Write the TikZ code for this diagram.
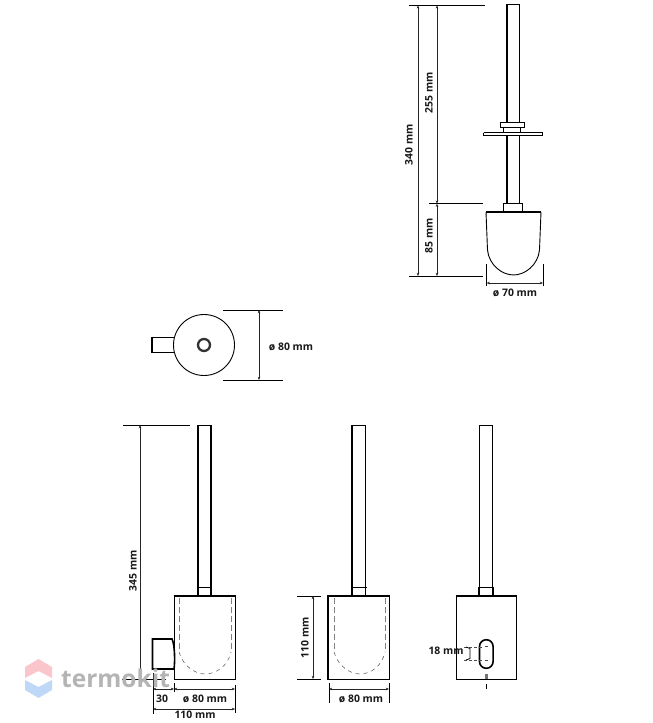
\documentclass[tikz,border=0pt]{standalone}
\usepackage{fontspec}
\setmainfont{Open Sans}
\usetikzlibrary{arrows.meta}
\definecolor{wmgray}{HTML}{B4B4B4}
\definecolor{wmred}{HTML}{FBC6CB}
\definecolor{wmblue}{HTML}{BFD8F7}
\tikzset{
  part/.style={line width=0.9pt,black},
  thick part/.style={line width=1.6pt,black},
  dimline/.style={line width=0.7pt,black!85,{Stealth[length=3.2pt,width=2.6pt]}-{Stealth[length=3.2pt,width=2.6pt]}},
  ext/.style={line width=0.8pt,black},
  lab/.style={font=\fontsize{10.4}{11}\selectfont\bfseries,inner sep=0pt,text=black!90},
  hidden/.style={line width=0.9pt,black!50,dash pattern=on 6pt off 3pt},
  hidden curve/.style={line width=0.5pt,black!70,dash pattern=on 4pt off 4pt},
}
\begin{document}
\begin{tikzpicture}[x=1pt,y=-1pt]
\useasboundingbox (0,0) rectangle (653,723);
% --- top: brush
\draw[ext] (409,5.3) -- (485,5.3);
\draw[ext] (429,203.7) -- (483,203.7);
\draw[ext] (409,276) -- (483,276);
\draw[dimline] (418,5.3) -- (418,276);
\draw[dimline] (437,5.3) -- (437,203.7);
\draw[dimline] (437,203.7) -- (437,276);
\node[lab,rotate=90] (t255) at (429,93) {255 mm};
\node[lab,rotate=90] (t340) at (409,145) {340 mm};
\node[lab,rotate=90] (t85) at (429,236) {85 mm};
% handle
\draw[part] (519.3,122) -- (519.3,4.3) -- (506.7,4.3);
\draw[thick part] (506.7,4) -- (506.7,122);
\draw[part] (519.3,136) -- (519.3,203);
\draw[thick part] (506.7,136) -- (506.7,203);
\draw[part] (500.5,122.5) rectangle (524.5,127);
\draw[part] (503.5,127) -- (503.5,132) (520.8,127) -- (520.8,132);
\draw[part] (483.5,132.5) -- (542.5,132.5);
\draw[thick part] (483.5,135.5) -- (542.5,135.5);
\draw[part] (483.5,132.5) -- (483.5,135.5) (542.5,132.5) -- (542.5,135.5);
\draw[part] (503.5,212) -- (503.5,203.5) -- (522,203.5) -- (522,212);
\draw[thick part] (486,212) -- (541,212);
\draw[part] (486,212) -- (487.5,250) .. controls (489,265) and (502,275) .. (513.5,275) .. controls (525,275) and (538,265) .. (539.5,250) -- (541,212);
\draw[ext] (486.7,264) -- (486.7,286) (543,264) -- (543,286);
\draw[dimline] (486.7,283) -- (543,283);
\node[lab] (t70) at (515,293) {ø 70 mm};
% --- plan view
\draw[part] (204,345) circle (30.5);
\draw[line width=2.3pt,black!80] (204,345) circle (6);
\draw[part] (174,337) -- (152,337);
\draw[part] (174,352) -- (152,352);
\draw[thick part] (152,336.5) -- (152,352.5);
\draw[ext] (223,310) -- (283,310) (223,380) -- (283,380);
\draw[dimline] (259,310) -- (259,380);
\node[lab] (t80a) at (291,347) {ø 80 mm};
% --- bottom left view
\draw[ext] (123,425) -- (190,425);
\draw[ext] (122,679) -- (166,679);
\draw[dimline] (140,425) -- (140,679);
\node[lab,rotate=90] (t345) at (133,571) {345 mm};
\draw[thick part] (198,596) -- (198,425.3);
\draw[part] (198,425.3) -- (211,425.3);
\draw[thick part] (211,425) -- (211,596);
\draw[part] (197,587) -- (212,587);
\draw[part] (174,596) -- (174,679) -- (235,679) -- (235,596);
\draw[thick part] (173.5,596) -- (235.5,596);
\draw[thick part] (174,669) -- (152.5,669) -- (152.5,639) -- (172,639) .. controls (175,645) and (175,663) .. (174,669);
\draw[hidden] (179,598) -- (179,652);
\draw[hidden] (231,598) -- (231,652);
\draw[hidden curve] (179,652) .. controls (183,666) and (195,674) .. (205,674) .. controls (216,674) and (228,666) .. (231,652);
\draw[ext] (153,673) -- (153,714) (174,683) -- (174,692) (235,685) -- (235,713);
\draw[dimline] (153,689) -- (174,689);
\draw[dimline] (174,689) -- (235,689);
\draw[dimline] (153,709) -- (235,709);
\node[lab] (t30) at (162,699) {30};
\node[lab] (t80b) at (205,699) {ø 80 mm};
\node[lab] (t110a) at (195,715) {110 mm};
% --- bottom middle view
\draw[thick part] (352,596) -- (352,425.3);
\draw[part] (352,425.3) -- (365.5,425.3);
\draw[thick part] (365.5,425) -- (365.5,596);
\draw[part] (351,587) -- (366.5,587);
\draw[part] (328,679) -- (389,679) -- (389,596);
\draw[thick part] (328,596) -- (328,679.5);
\draw[thick part] (327,596) -- (389.5,596);
\draw[hidden] (334,598) -- (334,652);
\draw[hidden] (385,598) -- (385,652);
\draw[hidden curve] (334,652) .. controls (338,666) and (350,674) .. (360,674) .. controls (371,674) and (382,666) .. (385,652);
\draw[ext] (297,596) -- (321,596) (297,679) -- (321,679);
\draw[dimline] (313,596) -- (313,679);
\node[lab,rotate=90] (t110b) at (305,638) {110 mm};
\draw[ext] (329,683) -- (329,703) (389,683) -- (389,703);
\draw[dimline] (329,689) -- (389,689);
\node[lab] (t80c) at (361,699) {ø 80 mm};
% --- bottom right view
\draw[part] (479.5,587) -- (479.5,425.3) -- (492.5,425.3) -- (492.5,587);
\draw[thick part] (479,587) -- (479,596) (493,587) -- (493,596);
\draw[part] (478,587) -- (494,587);
\draw[part] (456,596) -- (456,679) -- (516,679) -- (516,596);
\draw[thick part] (455.5,596) -- (516.5,596);
\draw[thick part] (479.5,646.5) arc (180:360:6.8) -- (493.1,661.5) arc (0:180:6.8) -- cycle;
\draw[line width=1pt,black!70] (484.5,646) -- (487.5,646) (484.5,660) -- (487.5,660);
\draw[line width=0.7pt,black!70,densely dashed] (464,647) -- (482,647) (464,660) -- (482,660);
\draw[line width=0.8pt,black] (466,647) -- (470,648.5) -- (470,658.5) -- (466,660);
\node[lab] (t18) at (446,651) {18 mm};
\fill[black!55] (485,673.5) rectangle (487.5,679);
\draw[line width=0.8pt,black] (486.5,684) -- (486.5,689);
% --- watermark
\fill[wmred] (38.5,659) -- (52,667) -- (52,678) -- (38.5,671) -- (25,678) -- (25,667) -- cycle;
\fill[wmblue] (38.5,698) -- (52,690) -- (52,680) -- (38.5,687) -- (25,680) -- (25,690) -- cycle;
\node[font=\fontsize{24.5}{25}\selectfont\bfseries,text=wmgray,inner sep=0pt,anchor=west] (wm) at (61,678) {termokit};
\end{tikzpicture}
\end{document}
